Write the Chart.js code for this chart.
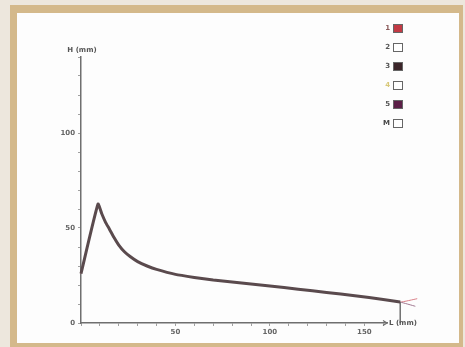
<!DOCTYPE html>
<html>
<head>
<meta charset="utf-8">
<script src="https://cdn.jsdelivr.net/npm/chart.js@4/dist/chart.umd.min.js"></script>
<style>
html, body { margin: 0; padding: 0; background: #ede7dd; }
#frame {
    position: absolute; left: 10px; top: 5px; width: 453px; height: 342px;
    box-sizing: border-box; border-style: solid; border-color: #d4b98b;
    border-width: 8px 4px 4px 7px; background: #fdfdfd;
}
#frame canvas { display: block; }
</style>
</head>
<body>
<div id="frame"><canvas id="profileChart" width="442" height="330"></canvas></div>
<script>
// values (L in mm, H in mm)
const lengthMm = [0, 9, 11, 13, 15, 17.5, 20, 23, 26, 30, 35, 40, 50, 60, 70, 85, 100, 115, 130, 145, 160, 169];
const heightMm = [26, 62.6, 57.5, 53, 49.5, 45, 41, 37.5, 35, 32.3, 30, 28.2, 25.6, 24, 22.6, 21, 19.5, 17.8, 16.1, 14.3, 12.4, 11];
const redTailX = [178];
const redTailY = [12.8];
const purpleTailX = [177];
const purpleTailY = [8.8];
const dropX = [169, 169];
const dropY = [11, 0];

const seriesLabels = ['1', '2', '3', '4', '5', 'M'];
const seriesColors = ['#c23a44', '#ffffff', '#3b2529', '#ffffff', '#5b1f47', '#ffffff'];
const labelColors = ['#8a5a5a', '#555555', '#555555', '#d8c878', '#555555', '#444444'];

const xTicks = [50, 100, 150];
const yTicks = [0, 50, 100];

const toPoints = (xs, ys) => xs.map((x, i) => ({ x: x, y: ys[i] }));
const mainPts = toPoints(lengthMm, heightMm);
// reversed order so chart.js doesn't cut the points past the axis end
const redPts = mainPts.concat(toPoints(redTailX, redTailY)).reverse();
const purplePts = mainPts.concat(toPoints(purpleTailX, purpleTailY)).reverse();

const FONT = 'DejaVu Sans';

// axis names, arrow and the legend
const extras = {
    id: 'extras',
    afterDraw(chart) {
        const ctx = chart.ctx;
        const a = chart.chartArea;
        ctx.save();
        ctx.font = 'bold 7px ' + FONT;
        ctx.fillStyle = '#555';
        ctx.textBaseline = 'middle';
        ctx.textAlign = 'center';
        ctx.fillText('H (mm)', a.left + 1, a.top - 7);

        // arrow at the end of the L axis
        ctx.strokeStyle = '#6f6f6f';
        ctx.lineWidth = 1.2;
        ctx.beginPath();
        ctx.moveTo(a.right - 4, a.bottom - 2.5);
        ctx.lineTo(a.right, a.bottom);
        ctx.lineTo(a.right - 4, a.bottom + 2.5);
        ctx.stroke();
        ctx.textAlign = 'left';
        ctx.fillText('L (mm)', a.right + 2, a.bottom);

        // legend, box on the right of each number
        const boxRight = 386, top0 = 11, step = 19, bw = 10, bh = 9;
        chart.data.datasets.forEach((ds, i) => {
            const y = top0 + i * step;
            ctx.fillStyle = seriesColors[i];
            ctx.fillRect(boxRight - bw, y, bw, bh);
            ctx.strokeStyle = '#666';
            ctx.lineWidth = 1;
            ctx.strokeRect(boxRight - bw + 0.5, y + 0.5, bw - 1, bh - 1);
            ctx.fillStyle = labelColors[i];
            ctx.textAlign = 'right';
            ctx.fillText(ds.label, boxRight - bw - 3, y + bh / 2);
        });
        ctx.restore();
    }
};

const ctx = document.getElementById('profileChart').getContext('2d');
new Chart(ctx, {
    type: 'line',
    data: {
        datasets: [
            {
                label: seriesLabels[0],
                data: redPts,
                borderColor: '#d98088',
                borderWidth: 1,
                clip: false,
                order: 3
            },
            { label: seriesLabels[1], data: [], borderColor: '#ffffff', order: 5 },
            {
                label: seriesLabels[2],
                data: mainPts,
                borderColor: '#5a4a4d',
                borderWidth: 3,
                clip: false,
                order: 0
            },
            { label: seriesLabels[3], data: [], borderColor: '#ffffff', order: 6 },
            {
                label: seriesLabels[4],
                data: purplePts,
                borderColor: '#a07890',
                borderWidth: 1,
                clip: false,
                order: 2
            },
            {
                label: seriesLabels[5],
                data: toPoints(dropX, dropY),
                borderColor: '#707070',
                borderWidth: 1.5,
                clip: false,
                order: 1
            }
        ]
    },
    options: {
        responsive: false,
        animation: false,
        layout: { padding: { left: 44, top: 44, right: 72, bottom: 6 } },
        datasets: {
            line: { pointRadius: 0, tension: 0.15, fill: false }
        },
        plugins: {
            legend: { display: false },
            tooltip: { enabled: false }
        },
        scales: {
            x: {
                type: 'linear',
                min: 0,
                max: 162,
                afterFit: s => { s.height = 14; },
                border: { color: '#6f6f6f', width: 1.5 },
                grid: { drawOnChartArea: false, tickLength: 3, color: '#a0a0a0' },
                ticks: {
                    stepSize: 10,
                    includeBounds: false,
                    autoSkip: false,
                    maxRotation: 0,
                    padding: 2,
                    color: '#666',
                    font: { size: 7, family: FONT, weight: 'bold' },
                    callback: v => xTicks.includes(v) ? v : ''
                }
            },
            y: {
                min: 0,
                max: 140,
                afterFit: s => { s.width = 20; },
                border: { color: '#6f6f6f', width: 1.5 },
                grid: { drawOnChartArea: false, tickLength: 3, color: '#a0a0a0' },
                ticks: {
                    stepSize: 10,
                    autoSkip: false,
                    padding: 3,
                    color: '#666',
                    font: { size: 7, family: FONT, weight: 'bold' },
                    callback: v => yTicks.includes(v) ? v : ''
                }
            }
        }
    },
    plugins: [extras]
});
</script>
</body>
</html>
